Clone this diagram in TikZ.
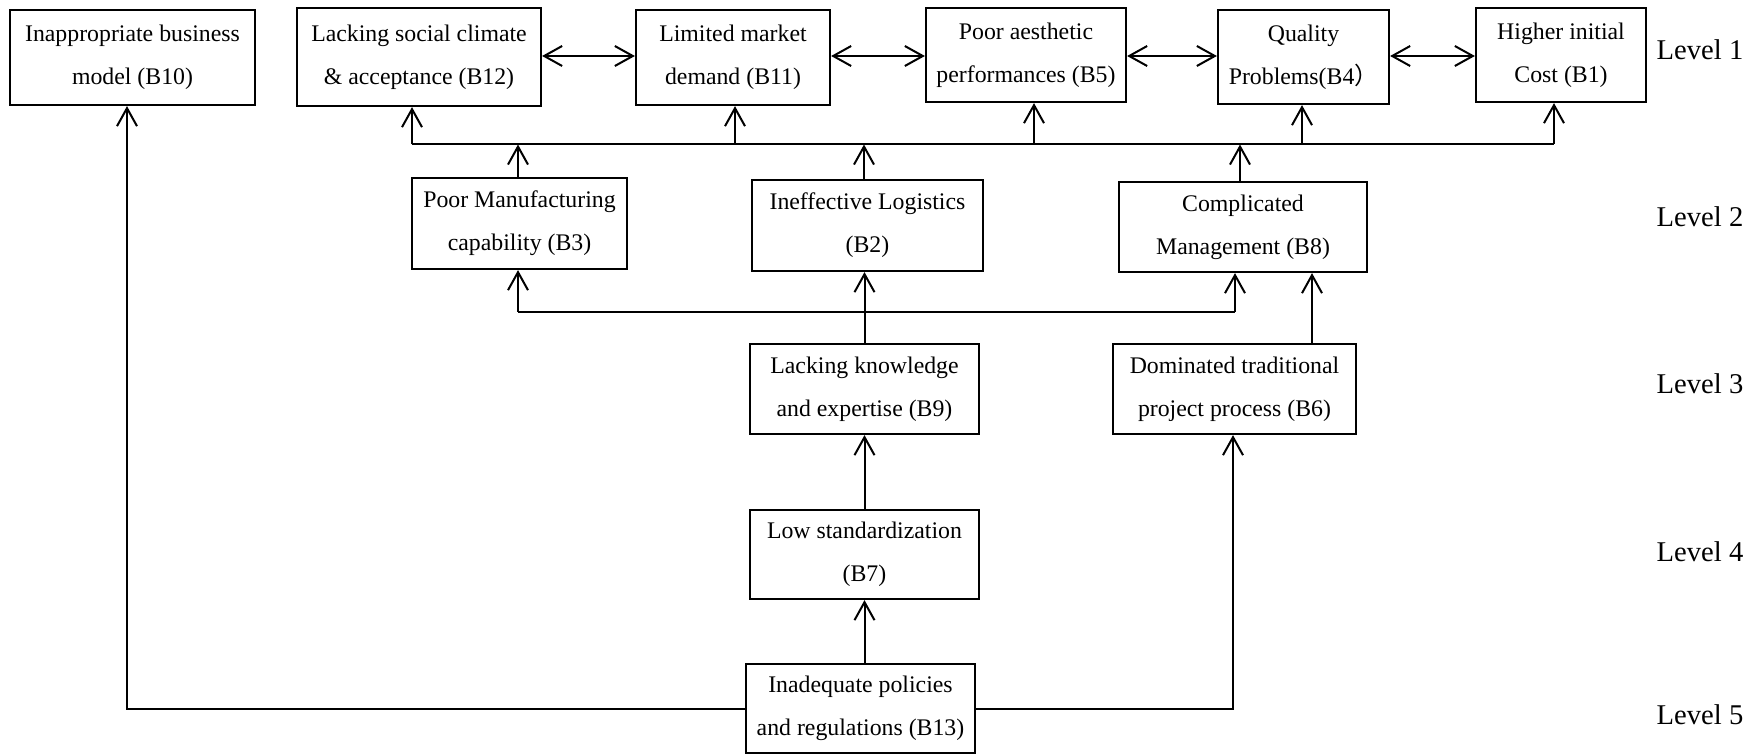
\documentclass[tikz,border=0pt]{standalone}
\usepackage{fontspec}
\setmainfont{Liberation Serif}
\newfontfamily\cjkfont{Noto Sans CJK SC}
\usetikzlibrary{arrows.meta}
\begin{document}
\begin{tikzpicture}[x=0.5pt,y=-0.5pt,
  box/.style={draw, line width=1.1pt, inner sep=0pt, align=center, font=\fontsize{11.9}{21.5}\selectfont},
  conn/.style={line width=1pt},
  arr/.style={conn, -{Straight Barb[length=9pt,width=10pt]}},
  dbl/.style={conn, {Straight Barb[length=9pt,width=10pt]}-{Straight Barb[length=9pt,width=10pt]}},
  lvl/.style={font=\fontsize{14.3}{16}\selectfont}]
\useasboundingbox (0,0) rectangle (1762,754);
% Level 1
\node[box, minimum width=122.5pt, minimum height=47.5pt] (b10) at (132.5,57.5) {Inappropriate business\\model (B10)};
\node[box, minimum width=122pt, minimum height=49pt] (b12) at (419,57) {Lacking social climate\\\& acceptance (B12)};
\node[box, minimum width=97pt, minimum height=47.5pt] (b11) at (733,57.5) {Limited market\\demand (B11)};
\node[box, minimum width=100pt, minimum height=47pt] (b5) at (1026,55) {Poor aesthetic\\performances (B5)};
\node[box, minimum width=85.5pt, minimum height=47pt] (b4) at (1303.5,57) {Quality\\Problems(B4{\cjkfont ）}};
\node[box, minimum width=85pt, minimum height=47pt] (b1) at (1561,55) {Higher initial\\Cost (B1)};
% Level 2
\node[box, minimum width=107.5pt, minimum height=45.5pt] (b3) at (519.5,223.5) {Poor Manufacturing\\capability (B3)};
\node[box, minimum width=115.5pt, minimum height=45.5pt] (b2) at (867.5,225.5) {Ineffective Logistics\\(B2)};
\node[box, minimum width=124pt, minimum height=45pt] (b8) at (1243,227) {Complicated\\Management (B8)};
% Level 3
\node[box, minimum width=114.5pt, minimum height=45pt] (b9) at (864.5,389) {Lacking knowledge\\and expertise (B9)};
\node[box, minimum width=121.5pt, minimum height=45pt] (b6) at (1234.5,389) {Dominated traditional\\project process (B6)};
% Level 4
\node[box, minimum width=114.5pt, minimum height=44.5pt] (b7) at (864.5,554.5) {Low standardization\\(B7)};
% Level 5
\node[box, minimum width=114.5pt, minimum height=44.5pt] (b13) at (860.5,708.5) {Inadequate policies\\and regulations (B13)};
% Level labels
\node[lvl] (l1) at (1700,50) {Level 1};
\node[lvl] (l2) at (1700,217) {Level 2};
\node[lvl] (l3) at (1700,384) {Level 3};
\node[lvl] (l4) at (1700,552) {Level 4};
\node[lvl] (l5) at (1700,715) {Level 5};
% helper coordinates
\coordinate (hy) at (0,56);
\coordinate (p12) at (412,144.5);
\coordinate (p11) at (735,144.5);
\coordinate (p5) at (1034,144.5);
\coordinate (p4) at (1302,144.5);
\coordinate (p1) at (1554,144.5);
\coordinate (q2) at (864,144.5);
\coordinate (r3) at (518,312);
\coordinate (r8) at (1235,312);
\coordinate (s6) at (1312,0);
\coordinate (c10) at (127,0);
\coordinate (c6) at (1233,0);
% level 1 mutual arrows
\draw[dbl] (b12.east |- hy) -- (b11.west |- hy);
\draw[dbl] (b11.east |- hy) -- (b5.west |- hy);
\draw[dbl] (b5.east |- hy) -- (b4.west |- hy);
\draw[dbl] (b4.east |- hy) -- (b1.west |- hy);
% top bus
\draw[conn] (p12) -- (p1);
\draw[arr] (p12) -- (p12 |- b12.south);
\draw[arr] (p11) -- (p11 |- b11.south);
\draw[arr] (p5) -- (p5 |- b5.south);
\draw[arr] (p4) -- (p4 |- b4.south);
\draw[arr] (p1) -- (p1 |- b1.south);
\draw[arr] (b3.north -| r3) -- (r3 |- p12);
\draw[arr] (q2 |- b2.north) -- (q2);
\draw[arr] (b8.north -| r8) ++(5,0) coordinate (t8) (t8) -- (t8 |- p12);
% lower bus
\draw[conn] (r3) -- (r8);
\draw[arr] (r3) -- (r3 |- b3.south);
\draw[arr] (r8) -- (r8 |- b8.south);
\draw[arr] (b9.north) -- (b9.north |- b2.south);
\draw[arr] (s6 |- b6.north) -- (s6 |- b8.south);
% lower chain
\draw[arr] (b7.north) -- (b9.south);
\draw[arr] (b13.north -| b7) -- (b7.south);
\draw[arr] (b13.west) -| (c10 |- b10.south);
\draw[arr] (b13.east) -| (c6 |- b6.south);
\end{tikzpicture}
\end{document}
